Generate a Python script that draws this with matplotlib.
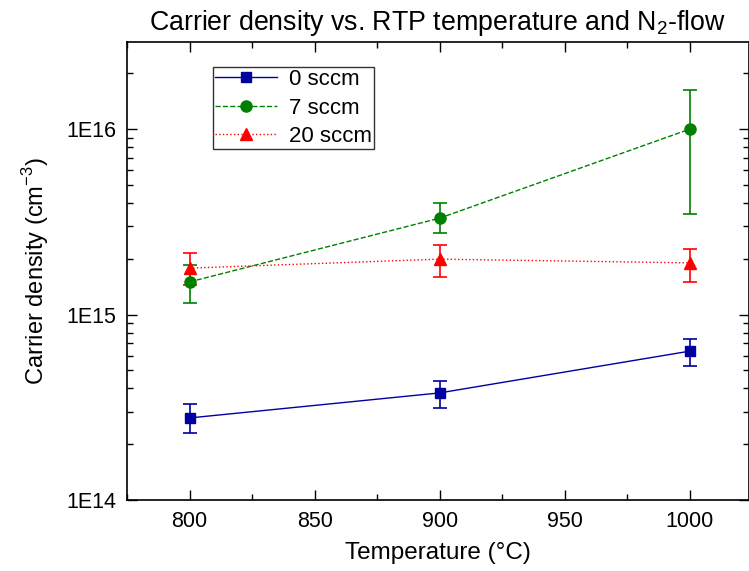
import matplotlib
matplotlib.use("Agg")
import matplotlib.pyplot as plt
from matplotlib.ticker import LogLocator, FixedLocator, NullFormatter, MultipleLocator
from matplotlib.lines import Line2D
import numpy as np

plt.rcParams['font.family'] = ['Liberation Sans', 'DejaVu Sans']
plt.rcParams['mathtext.fontset'] = 'custom'
plt.rcParams['mathtext.rm'] = 'Liberation Sans'

temps = [800, 900, 1000]

s0_vals = [2.77e14, 3.78e14, 6.35e14]
s0_lo = [2.30e14, 3.13e14, 5.28e14]
s0_hi = [3.29e14, 4.38e14, 7.38e14]

s7_vals = [1.50e15, 3.31e15, 1.00e16]
s7_lo = [1.15e15, 2.75e15, 3.48e15]
s7_hi = [1.85e15, 3.99e15, 1.63e16]

s20_vals = [1.78e15, 1.99e15, 1.90e15]
s20_lo = [1.45e15, 1.59e15, 1.50e15]
s20_hi = [2.14e15, 2.37e15, 2.25e15]

labels = ['0 sccm', '7 sccm', '20 sccm']
ytick_vals = [1e14, 1e15, 1e16]
ytick_labels = ['1E14', '1E15', '1E16']
xtick_vals = [800, 850, 900, 950, 1000]

W, H = 749, 571
fig = plt.figure(figsize=(W/100, H/100), dpi=100)
ax = fig.add_axes([127/W, 1-500/H, (748.5-127)/W, (500-42)/H])

series = [
    (s0_vals, s0_lo, s0_hi, '#0000A0', '-', 's', 7),
    (s7_vals, s7_lo, s7_hi, '#008000', '--', 'o', 8),
    (s20_vals, s20_lo, s20_hi, '#FF0000', ':', '^', 8.5),
]
handles = []
for (v, lo, hi, c, ls, m, ms), lab in zip(series, labels):
    v = np.array(v); lo = np.array(lo); hi = np.array(hi)
    yerr = [v - lo, hi - v]
    ax.errorbar(temps, v, yerr=yerr, color=c, linestyle=ls, marker=m,
                markersize=ms, linewidth=1, elinewidth=1.2, capsize=5,
                capthick=1.2)
    handles.append(Line2D([], [], color=c, linestyle=ls, marker=m,
                          markersize=ms, linewidth=1, label=lab))

ax.set_yscale('log')
ax.set_ylim(1e14, 2.95e16)
ax.set_xlim(775, 1023.5)
ax.set_yticks(ytick_vals)
ax.set_yticklabels(ytick_labels)
ax.yaxis.set_minor_locator(LogLocator(base=10, subs=np.arange(2, 10), numticks=20))
ax.yaxis.set_minor_formatter(NullFormatter())
ax.set_xticks(xtick_vals)
ax.xaxis.set_minor_locator(MultipleLocator(25))

ax.tick_params(which='both', direction='in', top=True, right=True, labelsize=15.5, width=1)
ax.tick_params(which='major', length=7)
ax.tick_params(which='minor', length=4)
ax.tick_params(axis='x', pad=8)
ax.tick_params(axis='y', pad=8)
for sp in ax.spines.values():
    sp.set_linewidth(1.2)

ax.set_xlabel('Temperature (°C)', fontsize=17.5, labelpad=7)
ax.set_ylabel('Carrier density (cm$^{-3}$)', fontsize=17, labelpad=11)
ax.set_title('Carrier density vs. RTP temperature and N$_2$-flow', fontsize=19.3, pad=9)

leg = ax.legend(handles=handles, loc='upper left',
                bbox_to_anchor=((213-127)/(748.5-127), 1-(67-42)/(500-42)),
                fontsize=16, frameon=True, fancybox=False, edgecolor='black',
                borderpad=0.1, labelspacing=0.33, handlelength=2.8, handletextpad=0.5,
                borderaxespad=0)
leg.get_frame().set_linewidth(1)

fig.savefig('out.png', dpi=100)
